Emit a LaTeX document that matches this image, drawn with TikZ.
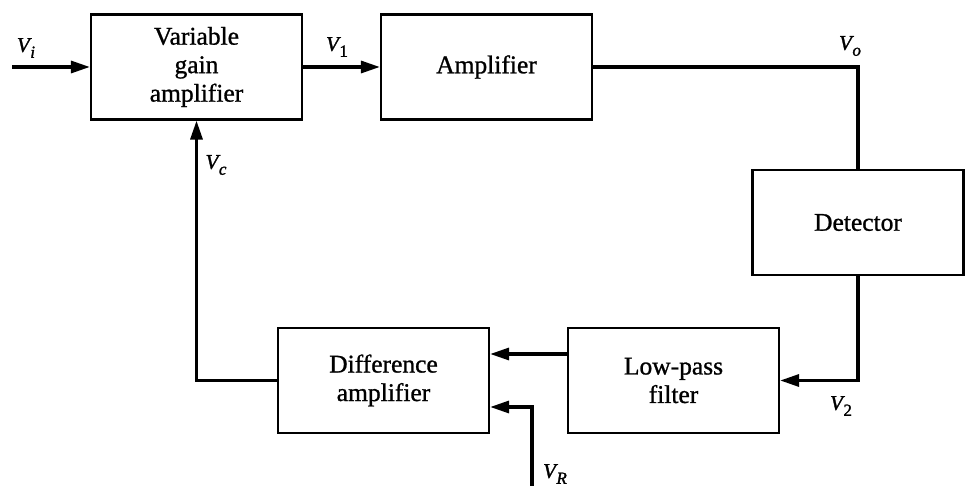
\documentclass[tikz,border=0pt]{standalone}
\usepackage{fontspec}
\setmainfont{Liberation Serif}
% slightly emboldened faces for block texts and signal names
\newfontfamily\blockfont{Liberation Serif}[FakeBold=1.0]
\newfontfamily\signalfont{Liberation Serif}[FakeBold=1.5]
\usetikzlibrary{arrows.meta}
% signal name: italic letter with a lowered subscript
\newcommand{\sgn}[2]{\textit{#1}\kern-1.5pt\raisebox{-0.28em}{\fontsize{17}{17}\selectfont #2}}

\begin{document}
\begin{tikzpicture}[x=1pt, y=-1pt,
  block/.style={draw, line width=2.2pt, minimum width=211pt, minimum height=105pt,
                align=center, inner sep=0pt, font=\blockfont\fontsize{25.5}{28.5}\selectfont},
  wire/.style={line width=3.2pt},
  feed/.style={wire, -{Triangle[length=19pt, width=12pt]}},
  lbl/.style={inner sep=0pt, font=\signalfont\fontsize{21}{21}\selectfont}]
  \useasboundingbox (0,0) rectangle (965,486);

  % blocks
  \node[block] (vga)  at (196.5,67)  {Variable\\gain\\amplifier};
  \node[block] (amp)  at (486.5,67)  {Amplifier};
  \node[block] (det)  at (858,222.5) {Detector};
  \node[block] (lpf)  at (673.5,380.5) {Low-pass\\filter};
  \node[block] (diff) at (383.5,380.5) {Difference\\amplifier};

  % free ends of the input lines
  \coordinate (vin) at (12,67);
  \coordinate (vref) at (532,486);

  % forward path
  \draw[feed] (vin) -- (vga.west);
  \draw[feed] (vga.east) -- (amp.west);
  \draw[wire] (amp.east) -| (det.north);
  \draw[feed] (det.south) |- (lpf.east);
  \draw[feed] ([yshift=26.5pt]lpf.west) -- ([yshift=26.5pt]diff.east);
  \draw[feed] (vref) |- ([yshift=-26.5pt]diff.east);
  \draw[feed] (diff.west) -| (vga.south);

  % signal labels
  \node[lbl] (li) at (26,48)   {\sgn{V}{\textit{i}}};
  \node[lbl] (l1) at (337,47)  {\sgn{V}{1}};
  \node[lbl] (lo) at (850,46)  {\sgn{V}{\textit{o}}};
  \node[lbl] (lc) at (216,165) {\sgn{V}{\textit{c}}};
  \node[lbl] (l2) at (841,406) {\sgn{V}{2}};
  \node[lbl] (lr) at (555,474) {\sgn{V}{\textit{R}}};
\end{tikzpicture}
\end{document}
